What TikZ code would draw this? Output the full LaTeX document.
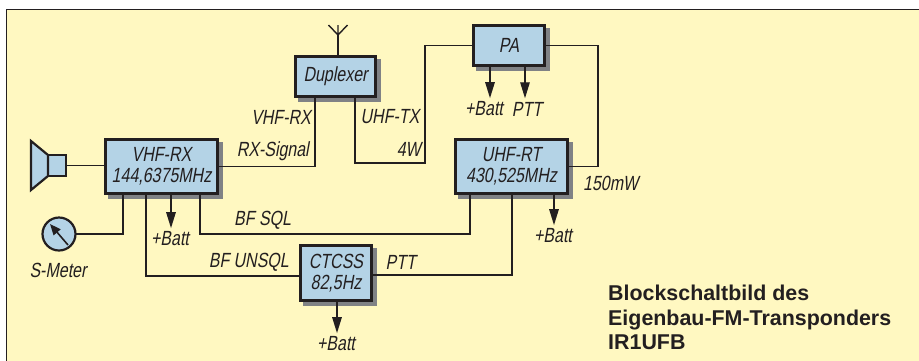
\documentclass[tikz,border=0pt]{standalone}
\usepackage{fontspec}
\setmainfont{Liberation Sans}
\usepackage{tikz}
\usetikzlibrary{arrows.meta,positioning,backgrounds}
\newfontfamily\sigfont[FakeStretch=0.78,FakeSlant=0.18]{Liberation Sans}
\newcommand{\sig}[1]{{\sigfont #1}}
\definecolor{paper}{HTML}{FFF8C1}
\definecolor{boxblue}{HTML}{B4D3E6}
\definecolor{ink}{HTML}{231F20}
\definecolor{shade}{HTML}{808285}

\begin{document}
\begin{tikzpicture}[x=1pt, y=-1pt, font=\fontsize{20.5}{20.5}\selectfont, text=ink,
    plainbox/.style={draw=ink, line width=2.7pt, fill=boxblue, inner sep=0pt, outer sep=0pt},
    block/.style={plainbox, align=center, minimum width=#1},
    wire/.style={draw=ink, line width=1.4pt},
    feed/.style={wire, shorten >=3.5pt, -{Triangle[length=16pt,width=9.5pt]}},
    lab/.style={inner sep=0pt}]
    \useasboundingbox (0, 0) rectangle (919, 360);

    \node[block=80.3pt, minimum height=40.3pt] (duplexer) at (335.5, 76.5) {\sig{Duplexer}};
    \node[block=71.3pt, minimum height=40.3pt] (pa) at (509, 45.5) {\sig{PA}};
    \node[block=112.3pt, minimum height=54.3pt] (vhfrx) at (161.5, 166.5) {\sig{VHF-RX}\\\sig{144,6375MHz}};
    \node[block=112.3pt, minimum height=54.3pt] (uhfrt) at (511.5, 166.5) {\sig{UHF-RT}\\\sig{430,525MHz}};
    \node[block=71.3pt, minimum height=55.3pt] (ctcss) at (336, 273) {\sig{CTCSS}\\\sig{82,5Hz}};
    \node[plainbox, line width=2.2pt, minimum width=18pt, minimum height=21pt] (cone) at (57, 165.5) {};
    \node[plainbox, circle, line width=2.2pt, minimum size=33pt] (smeter) at (59, 234) {};

    \begin{pgfonlayer}{background}
        \clip (0, 0) rectangle (919, 360);
        \draw[fill=paper, draw=ink, line width=0.9pt] (6.5, 9.5) rectangle (930, 370);
        \foreach \n in {duplexer, pa, vhfrx, uhfrt, ctcss}
            \draw[fill=shade, draw=shade, line width=2.7pt] ([shift={(4pt,-4pt)}]\n.south west) rectangle ([shift={(4pt,-4pt)}]\n.north east);
    \end{pgfonlayer}

    % labels
    \node[lab] (pabatt) at (484, 109) {\sig{+Batt}};
    \node[lab] (paptt) at (527, 109) {\sig{PTT}};
    \node[lab] (rxbatt) at (170, 239) {\sig{+Batt}};
    \node[lab] (rtbatt) at (553, 236) {\sig{+Batt}};
    \node[lab] (ctbatt) at (336, 344) {\sig{+Batt}};
    \node[lab] (smlabel) at (58, 270) {\sig{S-Meter}};
    \node[lab, anchor=east] (lvhf) at (311, 117) {\sig{VHF-RX}};
    \node[lab, anchor=west] (luhf) at (360.5, 117) {\sig{UHF-TX}};
    \node[lab, anchor=east] (lrx) at (309, 151) {\sig{RX-Signal}};
    \node[lab, anchor=east] (lfour) at (421, 149) {\sig{4W}};
    \node[lab, anchor=west] (lmw) at (583, 183) {\sig{150mW}};
    \node[lab, anchor=west] (lsql) at (234, 220) {\sig{BF SQL}};
    \node[lab, anchor=east] (lunsql) at (289, 262) {\sig{BF UNSQL}};
    \node[lab, anchor=west] (lptt) at (385.5, 262) {\sig{PTT}};
    \node[anchor=north west, inner sep=0pt, align=left, font=\fontsize{21.4}{24.5}\selectfont\bfseries] (title) at (608, 285)
        {Blockschaltbild des\\Eigenbau-FM-Transponders\\IR1UFB};

    % antenna
    \coordinate (antjoin) at (338, 35);
    \draw[wire] ([xshift=2.5pt]duplexer.north) -- (antjoin);
    \draw[wire] (328.5, 25) -- (antjoin) -- (347.5, 25) (antjoin) -- (338, 25);

    % speaker
    \draw[plainbox, line width=2.2pt, line join=miter] (cone.north west) -- (31, 141) -- (31, 190) -- (cone.south west) -- cycle;
    \draw[wire] (cone) -- (vhfrx.west |- cone);
    \draw[wire, line width=1.6pt, -{Triangle[length=11pt,width=9pt]}] ([shift={(9pt,-11pt)}]smeter.center) -- ([shift={(-9pt,10pt)}]smeter.center);

    % rf path
    \coordinate (txbus) at (425, 163);
    \coordinate (pabus) at (598, 100);
    \draw[wire] (vhfrx.east) -| ([xshift=-20.5pt]duplexer.south);
    \draw[wire] ([xshift=19.5pt]duplexer.south) |- (txbus) |- (pa.west);
    \draw[wire] (pa.east) -| (pabus) |- (uhfrt.east);

    % audio
    \coordinate (sqlbus) at (300, 234);
    \draw[wire] ([xshift=17.65pt]vhfrx.south west) |- (smeter.east);
    \draw[wire] ([xshift=40.65pt]vhfrx.south west) |- ([yshift=-3pt]ctcss.west);
    \draw[wire] ([xshift=94.65pt]vhfrx.south west) |- (sqlbus) -| ([xshift=14.65pt]uhfrt.south west);
    \draw[wire] ([yshift=-2pt]ctcss.east) -| ([xshift=56.65pt]uhfrt.south west);

    % supply
    \draw[feed] ([xshift=16.65pt]pa.south west) -- ([xshift=6pt]pabatt.north);
    \draw[feed] ([xshift=51.65pt]pa.south west) -- ([xshift=-2pt]paptt.north);
    \draw[feed] ([xshift=65.65pt]vhfrx.south west) -- ([xshift=1pt]rxbatt.north);
    \draw[feed] ([xshift=98.65pt]uhfrt.south west) -- ([xshift=1pt]rtbatt.north);
    \draw[feed] ([xshift=36.65pt]ctcss.south west) -- ([xshift=1pt]ctbatt.north);
\end{tikzpicture}
\end{document}
